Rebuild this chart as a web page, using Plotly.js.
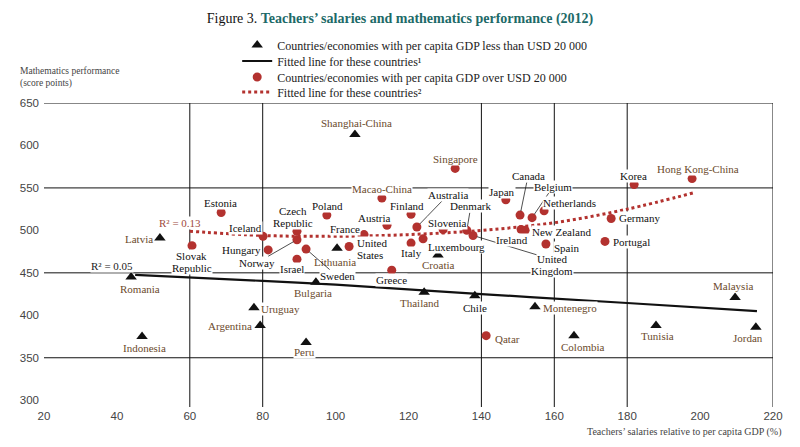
<!DOCTYPE html>
<html>
<head>
<meta charset="utf-8">
<script src="https://cdn.plot.ly/plotly-3.0.1.min.js"></script>
<style>html,body{margin:0;padding:0;background:#fff;}#chart{width:800px;height:447px;}</style>
</head>
<body>
<div id="chart"></div>
<script>
// ---- data ----
const lowCountries = ['Romania','Indonesia','Latvia','Uruguay','Argentina','Peru','Bulgaria','Lithuania','Shanghai-China','Thailand','Croatia','Chile','Montenegro','Colombia','Tunisia','Malaysia','Jordan'];
const lowSalary = [43.9, 46.9, 51.8, 77.6, 79.3, 91.9, 94.6, 100.4, 105.3, 124.3, 128.1, 138.2, 154.7, 165.4, 187.9, 209.6, 215.3];
const lowMath = [445, 375, 491, 409, 388, 368, 439, 479, 613, 427, 471, 423, 410, 376, 388, 421, 386];

const highCountries = ['Slovak Republic','Estonia','Iceland','Hungary','Czech Republic','Norway','Israel','Sweden','Poland','United States','France','Macao-China','Austria','Greece','Finland','Italy','Australia','Luxembourg','Slovenia','Singapore','Denmark','United Kingdom','Qatar','Japan','Canada','Ireland','New Zealand','Belgium','Netherlands','Spain','Portugal','Germany','Korea','Hong Kong-China'];
const highSalary = [60.6, 68.6, 80.1, 81.5, 89.4, 89.4, 89.4, 91.9, 97.6, 103.7, 107.8, 112.7, 114.1, 115.4, 120.7, 120.7, 122.3, 124.0, 129.5, 132.8, 136.0, 137.7, 141.3, 146.7, 150.6, 150.9, 152.0, 153.9, 157.2, 157.7, 173.9, 175.6, 181.9, 197.8];
const highMath = [482, 521, 493, 477, 499, 489, 466, 478, 518, 481, 495, 538, 506, 453, 519, 485, 504, 490, 501, 573, 500, 494, 376, 536, 518, 501, 500, 515, 523, 484, 487, 514, 554, 561];

const lowFitX = [45, 80, 100, 140, 180, 215.6];
const lowFitY = [447.5, 440.5, 436, 425, 414.5, 405];
const highFitX = [60, 80, 100, 120, 140, 160, 180, 198];
const highFitY = [499, 494, 493, 495, 500, 509, 525, 544];

const lowR2 = 'R² = 0.05';
const highR2 = 'R² = 0.13';

const partnerEconomies = ['Shanghai-China','Singapore','Macao-China','Hong Kong-China','Lithuania','Croatia','Latvia','Romania','Bulgaria','Indonesia','Uruguay','Argentina','Peru','Thailand','Montenegro','Qatar','Colombia','Tunisia','Malaysia','Jordan'];
const twoLineLabels = ['Slovak Republic','Czech Republic','United States','United Kingdom'];

const xTicks = [20, 40, 60, 80, 100, 120, 140, 160, 180, 200, 220];
const yTicks = [300, 350, 400, 450, 500, 550, 600, 650];
const gridX = [60, 80, 140, 160, 180, 220];
const gridY = [350, 450, 550, 650];

// ---- label placement (pixel offsets from the point; dy positive = down) ----
const labelPos = {
  'Romania': {dx:9, dy:12}, 'Indonesia': {dx:2, dy:11}, 'Latvia': {dx:-6, dy:1, a:'r'},
  'Uruguay': {dx:6, dy:1, a:'l'}, 'Argentina': {dx:-7, dy:1, a:'r'}, 'Peru': {dx:-2, dy:10},
  'Bulgaria': {dx:-3, dy:11}, 'Lithuania': {dx:-2, dy:14}, 'Shanghai-China': {dx:2, dy:-11},
  'Thailand': {dx:-4, dy:11}, 'Croatia': {dx:0, dy:10}, 'Chile': {dx:0, dy:12},
  'Montenegro': {dx:7, dy:1, a:'l'}, 'Colombia': {dx:9, dy:11}, 'Tunisia': {dx:1, dy:11},
  'Malaysia': {dx:-2, dy:-11}, 'Jordan': {dx:-8, dy:11},
  'Slovak Republic': {dx:0, dy:16}, 'Estonia': {dx:-1, dy:-10}, 'Iceland': {dx:-18, dy:-8},
  'Hungary': {dx:-6, dy:0, a:'r'}, 'Czech Republic': {dx:-4, dy:-14}, 'Norway': {ax:-40, ay:23},
  'Israel': {dx:-5, dy:10}, 'Sweden': {ax:31, ay:27}, 'Poland': {dx:1, dy:-9},
  'United States': {dx:7, dy:2, a:'l'}, 'France': {dx:-19, dy:-6}, 'Macao-China': {dx:0, dy:-9},
  'Austria': {dx:-12, dy:-7}, 'Greece': {dx:0, dy:10}, 'Finland': {dx:-4, dy:-8},
  'Italy': {dx:0, dy:10}, 'Australia': {ax:31, ay:-32}, 'Luxembourg': {dx:4, dy:8, a:'l'},
  'Slovenia': {dx:4, dy:-7}, 'Singapore': {dx:0, dy:-9}, 'Denmark': {ax:4, ay:-24},
  'United Kingdom': {ax:79, ay:30}, 'Qatar': {dx:8, dy:3, a:'l'}, 'Japan': {dx:-4, dy:-8},
  'Canada': {ax:8, ay:-39}, 'Ireland': {dx:-9, dy:10}, 'New Zealand': {dx:6, dy:2, a:'l'},
  'Belgium': {ax:21, ay:-31}, 'Netherlands': {dx:-2, dy:-8, a:'l'}, 'Spain': {dx:7, dy:4, a:'l'},
  'Portugal': {dx:7, dy:1, a:'l'}, 'Germany': {dx:7, dy:0, a:'l'}, 'Korea': {dx:-1, dy:-9},
  'Hong Kong-China': {dx:6, dy:-10}
};

const SERIF = '"Liberation Serif", "DejaVu Serif", serif';
const RED = '#b3322f';
const BROWN = '#6b4a2c';
const LINE_GAP = 12;

function textAnn(text, x, y, color, dx, dy, anchor) {
  return {x: x, y: y, xref: 'x', yref: 'y', text: text, showarrow: false,
    xshift: dx, yshift: -dy, xanchor: anchor, yanchor: 'middle',
    font: {family: SERIF, size: 11, color: color}, bgcolor: '#ffffff', borderpad: 0};
}

function labelAnns(name, x, y) {
  const p = labelPos[name] || {dx:0, dy:-10};
  const color = partnerEconomies.includes(name) ? BROWN : '#111';
  const lines = twoLineLabels.includes(name) ? name.split(' ') : [name];
  const out = [];
  const anchor = p.a === 'l' ? 'left' : (p.a === 'r' ? 'right' : 'center');
  lines.forEach((ln, k) => {
    const off = (k - (lines.length - 1) / 2) * LINE_GAP;
    if (p.ax !== undefined && k === 0) {
      out.push({x: x, y: y, xref: 'x', yref: 'y', text: ln, showarrow: true, arrowhead: 0,
        arrowwidth: 0.8, arrowcolor: '#222', ax: p.ax, ay: p.ay + off, standoff: 4,
        font: {family: SERIF, size: 11, color: color}, bgcolor: '#ffffff', borderpad: 0});
    } else if (p.ax !== undefined) {
      out.push(textAnn(ln, x, y, color, p.ax, p.ay + off, 'center'));
    } else {
      out.push(textAnn(ln, x, y, color, p.dx, p.dy + off, anchor));
    }
  });
  return out;
}

const annotations = [];
lowCountries.forEach((c, i) => annotations.push(...labelAnns(c, lowSalary[i], lowMath[i])));
highCountries.forEach((c, i) => annotations.push(...labelAnns(c, highSalary[i], highMath[i])));

annotations.push({x: highFitX[0], y: highFitY[0], xref: 'x', yref: 'y', text: highR2, showarrow: false,
  xshift: -10, yshift: 8, font: {family: SERIF, size: 11, color: '#a04a40'}, bgcolor: '#fff', borderpad: 0});
annotations.push({x: lowFitX[0], y: lowFitY[0], xref: 'x', yref: 'y', text: lowR2, showarrow: false,
  xshift: -23, yshift: 9, font: {family: SERIF, size: 11, color: '#222'}, bgcolor: '#fff', borderpad: 0});

annotations.push({xref: 'paper', yref: 'paper', x: -0.036, y: 1.085, xanchor: 'left', yanchor: 'middle', align: 'left',
  text: 'Mathematics performance<br>(score points)', showarrow: false,
  font: {family: SERIF, size: 9.5, color: '#444'}});
annotations.push({xref: 'paper', yref: 'paper', x: 1.014, y: -0.082, xanchor: 'right', yanchor: 'middle',
  text: 'Teachers’ salaries relative to per capita GDP (%)', showarrow: false,
  font: {family: SERIF, size: 10, color: '#444'}});

const shapes = [];
gridX.forEach(v => shapes.push({type: 'line', xref: 'x', yref: 'paper', x0: v, x1: v, y0: 0, y1: 1,
  line: {color: '#111', width: 1}, layer: 'below'}));
gridY.forEach(v => shapes.push({type: 'line', xref: 'paper', yref: 'y', x0: 0, x1: 1, y0: v, y1: v,
  line: {color: '#111', width: 1}, layer: 'below'}));

const traces = [
  {type: 'scatter', mode: 'markers', x: lowSalary, y: lowMath, text: lowCountries, legend: 'legend',
   name: 'Countries/economies with per capita GDP less than USD 20 000',
   marker: {symbol: 'triangle-up', size: 10, color: '#111'}},
  {type: 'scatter', mode: 'lines', x: lowFitX, y: lowFitY, name: 'Fitted line for these countries¹', legend: 'legend2',
   line: {color: '#111', width: 2.2, shape: 'spline'}},
  {type: 'scatter', mode: 'markers', x: highSalary, y: highMath, text: highCountries, legend: 'legend3',
   name: 'Countries/economies with per capita GDP over USD 20 000',
   marker: {symbol: 'circle', size: 9, color: RED}},
  {type: 'scatter', mode: 'lines', x: highFitX, y: highFitY, name: 'Fitted line for these countries²', legend: 'legend4',
   line: {color: RED, width: 3, dash: 'dot', shape: 'spline'}}
];

function legendAt(py) {
  return {x: 0.265, y: 1 + (103 - py) / 304, xanchor: 'left', yanchor: 'middle', bgcolor: 'rgba(0,0,0,0)',
    font: {family: SERIF, size: 12, color: '#222'}, itemwidth: 30};
}

const layout = {
  width: 800, height: 447,
  margin: {l: 44, r: 27, t: 103, b: 40},
  paper_bgcolor: '#fff', plot_bgcolor: '#fff',
  font: {family: SERIF, color: '#111'},
  title: {text: 'Figure 3. <b><span style="color:#1d6a68">Teachers’ salaries and mathematics performance (2012)</span></b>',
    x: 0.5, xanchor: 'center', y: 0.96, yanchor: 'middle', font: {family: SERIF, size: 14, color: '#111'}},
  showlegend: true,
  legend: legendAt(45), legend2: legendAt(61), legend3: legendAt(77), legend4: legendAt(92),
  xaxis: {range: [20, 220], tickvals: xTicks, showgrid: false, zeroline: false, showline: false,
    ticks: '', tickfont: {family: '"Liberation Sans", Arial, sans-serif', size: 11.5, color: '#444'}},
  yaxis: {range: [292, 650], tickvals: yTicks, showgrid: false, zeroline: false, showline: false,
    ticks: '', ticklabelstandoff: 4, tickfont: {family: '"Liberation Sans", Arial, sans-serif', size: 11.5, color: '#444'}},
  shapes: shapes,
  annotations: annotations
};

Plotly.newPlot('chart', traces, layout, {displayModeBar: false, staticPlot: true});
</script>
</body>
</html>
